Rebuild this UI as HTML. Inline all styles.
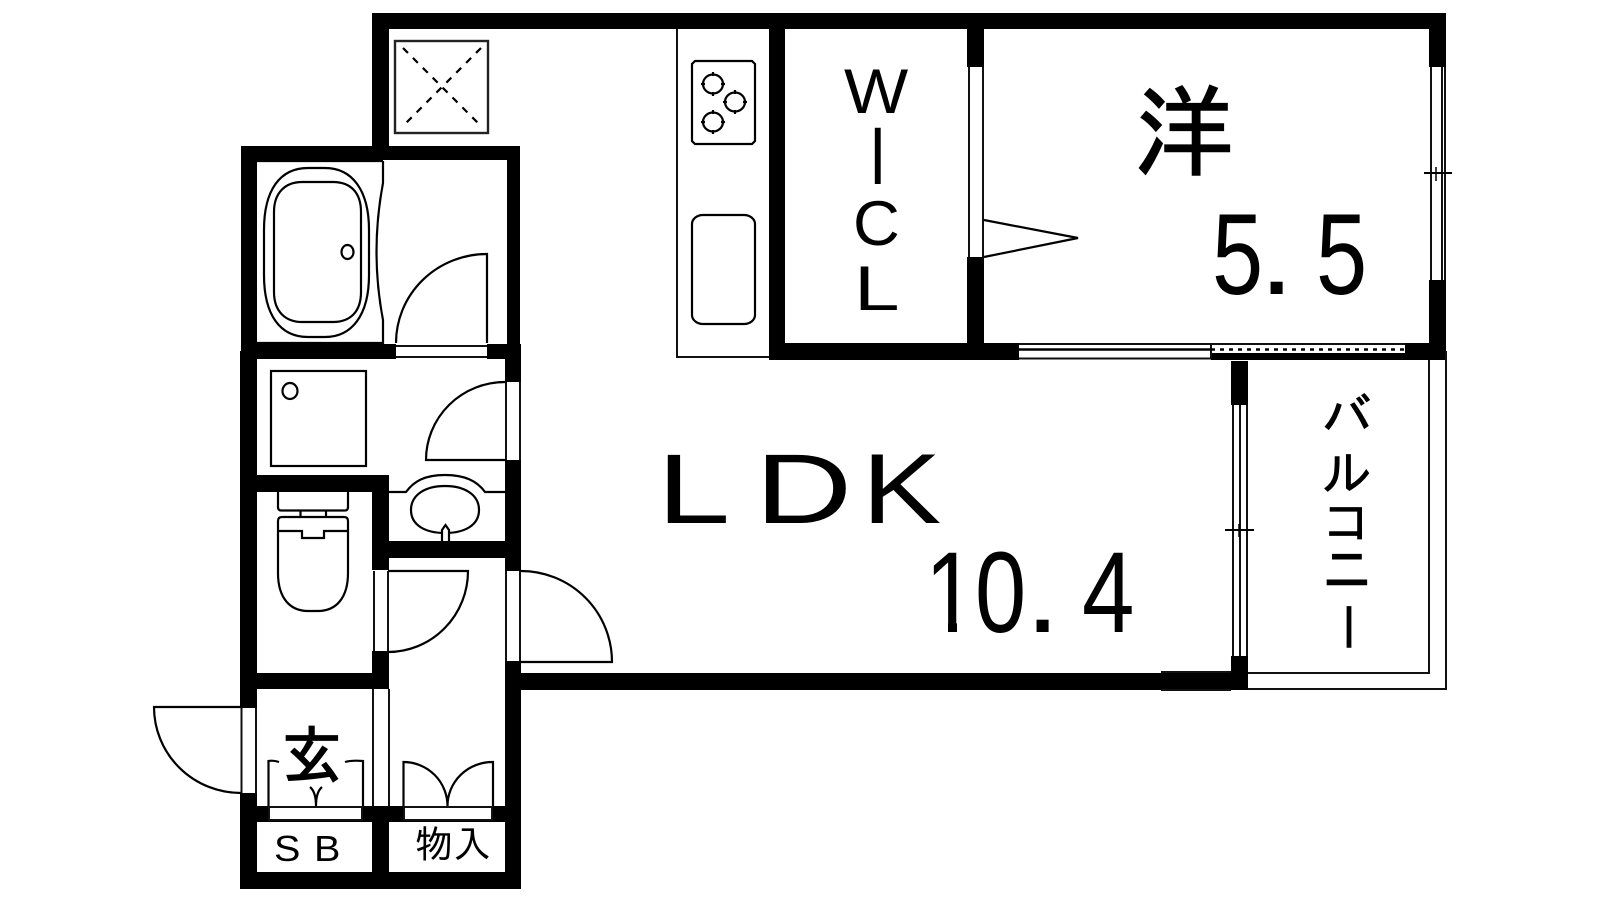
<!DOCTYPE html>
<html lang="ja"><head><meta charset="utf-8"><title>間取り図</title>
<style>
html,body{margin:0;padding:0;background:#fff;width:1600px;height:900px;overflow:hidden}
svg{display:block}
.l{fill:none;stroke:#111;stroke-width:2}
.k{fill:none;stroke:#000;stroke-width:2.200}
.t{font-family:"Liberation Sans",sans-serif;fill:#000}
.j{font-family:"IPAGothic","Noto Sans CJK JP",sans-serif;fill:#000}
</style></head><body>
<svg width="1600" height="900" viewBox="0 0 1600 900" xmlns="http://www.w3.org/2000/svg">
<rect width="1600" height="900" fill="#fff"/>
<!-- walls -->
<g fill="#000">
<rect x="372" y="13" width="1074" height="16"/>
<rect x="372" y="13" width="17" height="133"/>
<rect x="241" y="146" width="279" height="14"/>
<rect x="241" y="146" width="16" height="205"/>
<rect x="507" y="146" width="13" height="205"/>
<rect x="241" y="344" width="155" height="15"/>
<rect x="487" y="344" width="34" height="15"/>
<rect x="240" y="351" width="17" height="357"/>
<rect x="240" y="793" width="17" height="96"/>
<rect x="505" y="351" width="16" height="31"/>
<rect x="505" y="460" width="16" height="111"/>
<rect x="505" y="661" width="16" height="228"/>
<rect x="240" y="475" width="149" height="17"/>
<rect x="372" y="475" width="17" height="95"/>
<rect x="372" y="651" width="17" height="38"/>
<rect x="372" y="541" width="149" height="17"/>
<rect x="240" y="673" width="149" height="16"/>
<rect x="521" y="673" width="727" height="17"/>
<rect x="240" y="806" width="281" height="16"/>
<rect x="372" y="806" width="17" height="83"/>
<rect x="240" y="872" width="281" height="17"/>
<rect x="769" y="13" width="16" height="347"/>
<rect x="769" y="343" width="250" height="17"/>
<rect x="967" y="13" width="17" height="54"/>
<rect x="967" y="257" width="17" height="90"/>
<rect x="1429" y="13" width="17" height="54"/>
<rect x="1429" y="280" width="17" height="80"/>
<rect x="1405" y="343" width="41" height="17"/>
<rect x="1211" y="353" width="194" height="7"/>
<rect x="1231" y="361" width="17" height="44"/>
<rect x="1231" y="656" width="17" height="34"/>
</g>
<!-- openings -->
<g fill="#fff">
<rect x="269" y="807" width="93" height="13"/>
<rect x="404" y="807" width="88" height="13"/>
</g>
<g class="l">
<rect x="269" y="807" width="93" height="13"/>
<rect x="404" y="807" width="88" height="13"/>
<path d="M396 346H487M396 357H487"/>
<path d="M506 382V460M520 382V460"/>
<path d="M506 571V661M520 571V661"/>
<path d="M374 571V651M388 571V651"/>
<path d="M241.500 708V793M256 708V793"/>
<path d="M373 689V806M389 689V806"/>
<path d="M969 67V257M983 67V257"/>
<path d="M1431 67V280M1442 67V280M1445 67V280"/>
<path d="M1233 405V656M1240 405V656M1247 405V656"/>
<path d="M1019 344H1211M1019 358.500H1211M1211 344H1405"/>
<path d="M1211 344V358"/>
<path d="M677 29V357H769"/>
<path d="M1161 672H1231M1161 690H1231"/>
<path d="M1248 673H1429V360M1248 689H1446V351"/>
</g>
<path d="M1019 349.500H1211" stroke="#000" stroke-width="2.500" fill="none"/>
<path d="M1211 349.500H1405" stroke="#000" stroke-width="2.500" stroke-dasharray="4 5" fill="none"/>
<path d="M1424 173H1452M1225 530H1254" stroke="#000" stroke-width="2" fill="none"/>
<path d="M1436 167V181M1239 524V537" stroke="#000" stroke-width="1.500" fill="none"/>
<!-- doors -->
<g class="k">
<path d="M487 343V254A91 89 0 0 0 396 343"/>
<path d="M505 382A79 78 0 0 0 426 460H505"/>
<path d="M521 571A91 91 0 0 1 612 662H521"/>
<path d="M388 571H468A80 81 0 0 1 388 652"/>
<path d="M241 707H154A87 86 0 0 0 241 793"/>
<path d="M984 220L1078 238L984 257"/>
<path d="M403.500 806V762A44 44 0 0 1 447.500 806A45 44 0 0 1 493 762V806"/>
<path d="M279 762Q273 760 268.500 761V806M345 762Q352 760 363 761V806"/>
<path d="M310 787Q316 792 316 806M322 787Q316 792 316 806"/>
</g>
<!-- shaft -->
<rect x="395" y="41" width="93" height="92" fill="none" stroke="#222" stroke-width="2.400"/>
<path d="M403 48L481 126M481 48L403 126" fill="none" stroke="#000" stroke-width="2.200" stroke-dasharray="7 7"/>
<!-- stove and sink -->
<g class="k">
<path d="M695 61H752L755 64V141L752 144H695L692 141V64Z"/>
<ellipse cx="713" cy="84" rx="10" ry="9.500"/>
<ellipse cx="735" cy="102" rx="10" ry="9.500"/>
<ellipse cx="713" cy="122" rx="10" ry="9.500"/>
<path d="M713 72V76M713 92V96M701 84H705M721 84H725M735 90V94M735 110V114M723 102H727M743 102H747M713 110V114M713 130V134M701 122H705M721 122H725"/>
<rect x="692" y="215" width="63" height="109" rx="11" ry="9"/>
</g>
<!-- bath -->
<g class="k">
<path d="M383 161H257M257 343H383V320Q370 252 383 183V161"/>
<path d="M264 230C264 190 280 168 308 168H325C352 168 369 190 369 230V275C369 315 352 337 325 337H308C280 337 264 315 264 275Z"/>
<path d="M274 212C274 192 286 182 302 182H333C350 182 361 192 361 212V292C361 312 350 322 333 322H302C286 322 274 312 274 292Z"/>
<ellipse cx="347.500" cy="252" rx="6" ry="7"/>
<rect x="271" y="371" width="95" height="95"/>
<ellipse cx="290" cy="391" rx="7.500" ry="8"/>
<!-- toilet -->
<path d="M278 492V507Q278 510.500 281 510.500H345Q348 510.500 348 507V492"/>
<path d="M300.500 511V517M326 511V517"/>
<path d="M278 531V521Q278 517 282 517H344Q348 517 348 521V531H324V538H302V531H278V573C278 598 290 611 308 611H318C336 611 348 598 348 573V531"/>
<!-- basin -->
<path d="M389 492H406C414 481 425 475 445 475C465 475 477 481 485 492H505"/>
<path d="M411 510C411 495 425 486 445 486C465 486 479 495 479 510C479 525 465 533 445 533C425 533 411 525 411 510Z"/>
<path d="M442 541V530L445.500 525L449 530V541" fill="#fff"/>
</g>
<!-- labels -->
<text class="j" x="1134" y="168" font-size="100" stroke="#000" stroke-width="1.500">洋</text>
<g class="t" font-size="115">
<text transform="translate(1212 294) scale(.8 1)">5</text>
<text transform="translate(1259 294) scale(1.1 1)">.</text>
<text transform="translate(1316 294) scale(.8 1)">5</text>
<text transform="translate(925 632) scale(.8 1)">1</text>
<text transform="translate(975 632) scale(.8 1)">0</text>
<text transform="translate(1025 632) scale(1.1 1)">.</text>
<text transform="translate(1082 632) scale(.82 1)">4</text>
</g>
<rect x="925" y="620" width="23" height="14" fill="#fff"/>
<rect x="957" y="620" width="17" height="14" fill="#fff"/>
<g class="t" font-size="99">
<text transform="translate(657 523) scale(1.33 1)">L</text>
<text transform="translate(755 523) scale(1.36 1)">D</text>
<text transform="translate(862 523) scale(1.2 1)">K</text>
</g>
<g class="t" font-size="63">
<text transform="translate(844 113) scale(1.08 1)">W</text>
<text transform="translate(869 184) scale(1 1.3)">I</text>
<text transform="translate(853 245) scale(1.03 1)">C</text>
<text transform="translate(854 310) scale(1.3 1)">L</text>
</g>
<g class="j" font-size="50" text-anchor="middle" stroke="#000" stroke-width=".8">
<text x="1347" y="434">バ</text>
<text x="1347" y="491">ル</text>
<text x="1347" y="540">コ</text>
<text transform="translate(1347 591) scale(1 1.2)">ニ</text>
<text transform="translate(1347 627) rotate(90)" y="17">ー</text>
</g>
<text class="j" transform="translate(282 778) scale(1 1.05)" font-size="60" stroke="#000" stroke-width="1.500">玄</text>
<text class="j" x="415" y="858" font-size="38">物入</text>
<g class="t" font-size="36">
<text transform="translate(274 861) scale(1.1 1)">S</text>
<text transform="translate(314 861) scale(1.1 1)">B</text>
</g>
</svg>
</body></html>
